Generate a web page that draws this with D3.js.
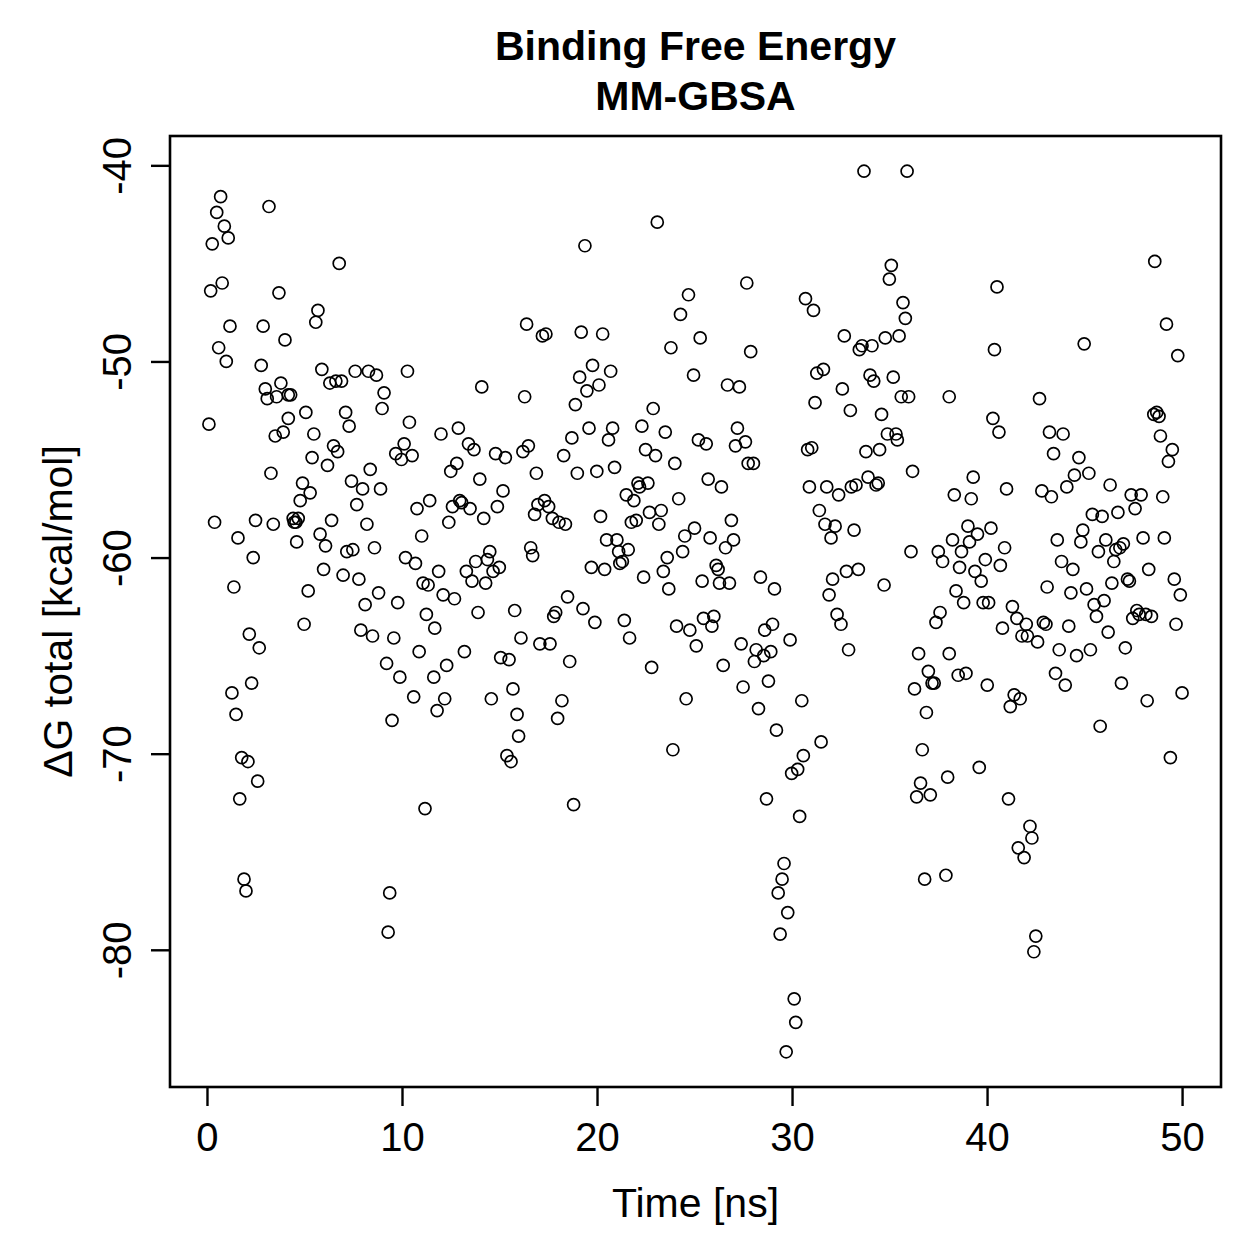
<!DOCTYPE html>
<html>
<head>
<meta charset="utf-8">
<script src="https://cdn.jsdelivr.net/npm/d3@7"></script>
<style>
  body { margin: 0; background: #fff; }
  text { font-family: "Liberation Sans", Arial, Helvetica, sans-serif; fill: #000; }
</style>
</head>
<body>
<svg id="chart" width="1259" height="1259"></svg>
<script>
// MM-GBSA binding free energy per frame
var time = [0.70,0.50,3.18,0.89,1.09,0.27,6.78,0.78,0.19,3.69,5.69,5.58,1.18,2.88,4.00,0.60,0.99,2.78,5.89,10.28,
  7.60,8.28,8.69,6.30,6.61,6.90,3.79,2.99,9.08,4.17,4.29,3.57,3.09,8.98,5.07,7.11,4.17,10.38,0.10,7.29,
  3.91,3.50,5.48,6.49,6.70,10.11,9.68,9.97,10.52,5.39,6.18,8.37,3.28,7.41,4.90,7.98,8.90,5.29,4.78,11.42,
  7.68,10.77,0.39,2.49,3.40,4.42,4.56,4.68,4.47,6.39,8.20,1.59,5.80,6.08,4.60,11.01,7.17,7.48,8.59,2.37,
  10.18,10.69,5.98,6.98,7.79,1.38,5.19,11.08,11.34,8.80,8.11,9.78,11.25,4.98,2.17,2.68,7.89,8.49,9.58,10.88,
  9.21,9.89,2.29,1.28,10.60,1.49,9.49,1.78,2.10,2.60,1.68,11.18,1.90,2.00,9.37,9.29,
  23.09,19.38,24.69,24.28,23.79,16.39,17.20,17.38,19.19,20.29,19.77,19.11,20.70,20.10,19.48,18.89,14.09,16.29,22.88,12.00,
  12.89,13.41,13.69,14.80,15.30,16.20,16.48,18.71,19.59,20.80,20.59,22.30,23.50,22.49,23.00,23.99,18.29,12.81,12.50,13.99,
  16.89,18.99,19.99,20.90,22.10,22.18,22.61,21.50,21.89,12.59,12.96,13.06,13.49,15.18,14.89,12.40,14.19,17.31,16.97,17.52,
  16.80,17.71,18.05,18.38,20.18,24.19,22.69,23.29,23.17,21.76,22.01,24.50,24.39,20.49,21.02,21.11,21.60,21.17,21.30,19.71,
  20.39,23.60,23.40,22.39,23.68,16.60,16.70,14.50,14.38,13.78,13.30,13.59,14.29,14.67,14.99,11.88,12.11,12.69,18.49,13.90,
  15.78,17.88,17.78,19.28,19.89,21.40,21.67,24.08,24.76,11.68,16.10,17.07,17.59,13.20,15.06,15.49,18.60,22.80,12.29,11.63,
  15.69,14.58,12.19,11.80,18.20,17.98,24.57,15.90,15.98,23.89,15.38,15.59,18.80,
  33.69,35.90,35.09,34.99,27.68,30.69,31.10,35.69,35.81,25.29,27.88,32.68,33.45,33.59,34.10,34.78,35.49,24.95,26.69,27.30,
  31.27,31.61,34.00,34.19,35.19,32.58,35.60,35.98,38.06,31.18,32.99,34.59,27.20,25.20,25.60,27.10,27.61,27.75,28.02,30.80,
  31.01,33.79,34.49,34.89,35.33,35.40,36.18,25.70,26.38,30.89,31.78,32.39,33.04,33.28,33.90,34.31,34.42,31.40,31.69,32.21,
  32.00,33.18,26.89,25.00,25.80,26.59,27.00,26.11,26.21,25.39,26.28,26.79,28.38,29.10,32.79,33.40,32.08,31.90,34.72,36.10,
  37.50,37.72,25.46,25.99,25.89,25.09,27.39,28.16,28.07,28.55,28.91,28.60,29.00,29.90,26.47,32.31,32.51,32.90,37.59,37.38,
  36.49,38.06,36.99,37.18,37.29,36.28,27.49,28.79,28.28,30.50,36.89,29.20,31.49,30.58,30.29,29.98,36.68,28.69,30.39,36.59,
  36.39,37.09,37.98,29.59,29.49,29.29,29.78,29.39,30.11,30.19,29.70,36.80,37.89,
  48.60,40.51,49.20,49.78,40.38,44.98,42.69,40.30,40.61,48.55,48.70,48.82,48.89,49.50,49.30,43.20,43.90,43.41,44.71,44.48,
  45.22,44.09,39.29,38.32,39.19,41.00,42.81,43.30,46.31,47.39,47.90,47.59,49.01,45.40,45.90,46.71,39.02,39.51,40.20,38.23,
  39.10,38.69,40.90,39.91,38.59,39.38,39.70,40.68,44.91,44.81,43.60,46.09,45.71,46.60,46.81,46.99,46.50,43.82,44.40,48.00,
  49.09,48.29,47.20,47.30,46.40,49.60,49.91,38.41,38.80,39.80,40.08,41.30,43.08,44.30,45.10,45.49,46.00,47.68,47.80,48.14,
  48.43,47.47,45.61,41.53,40.79,42.01,42.07,41.79,42.59,42.89,43.02,44.19,46.21,49.69,43.70,44.59,45.30,47.09,38.52,38.92,
  40.01,41.39,41.70,41.19,43.51,44.01,46.89,48.21,50.00,45.80,49.40,39.60,41.10,42.20,42.30,41.60,41.90,42.50,42.40];

var dG = [-41.6,-42.4,-42.1,-43.1,-43.7,-44.0,-45.0,-46.0,-46.4,-46.5,-47.4,-48.0,-48.2,-48.2,-48.9,-49.3,-50.0,-50.2,-50.4,-50.5,
  -50.5,-50.5,-50.7,-51.1,-51.0,-51.0,-51.1,-51.4,-51.6,-51.7,-51.7,-51.8,-51.9,-52.4,-52.6,-52.6,-52.9,-53.1,-53.2,-53.3,
  -53.6,-53.8,-53.7,-54.3,-54.6,-54.2,-54.7,-55.0,-54.8,-54.9,-55.3,-55.5,-55.7,-56.1,-56.2,-56.5,-56.5,-56.7,-57.1,-57.1,
  -57.3,-57.5,-58.2,-58.1,-58.3,-58.0,-58.2,-58.0,-58.2,-58.1,-58.3,-59.0,-58.8,-59.4,-59.2,-58.9,-59.7,-59.6,-59.5,-60.0,
  -60.0,-60.3,-60.6,-60.9,-61.1,-61.5,-61.7,-61.3,-61.4,-61.8,-62.4,-62.3,-62.9,-63.4,-63.9,-64.6,-63.7,-64.0,-64.1,-64.8,
  -65.4,-66.1,-66.4,-66.9,-67.1,-68.0,-68.3,-70.2,-70.4,-71.4,-72.3,-72.8,-76.4,-77.0,-77.1,-79.1,
  -42.9,-44.1,-46.6,-47.6,-49.3,-48.1,-48.7,-48.6,-48.5,-48.6,-50.2,-50.8,-50.5,-51.2,-51.5,-52.2,-51.3,-51.8,-52.4,-53.7,
  -53.4,-54.2,-54.5,-54.7,-54.9,-54.6,-54.3,-53.9,-53.4,-53.4,-54.0,-53.3,-53.6,-54.5,-54.8,-55.2,-54.8,-55.2,-55.6,-56.0,
  -55.7,-55.7,-55.6,-55.4,-56.2,-56.4,-56.2,-56.8,-57.1,-57.4,-57.1,-57.2,-57.5,-56.6,-57.4,-58.2,-58.0,-57.1,-57.3,-57.4,
  -57.8,-58.0,-58.2,-58.3,-57.9,-57.0,-57.7,-57.6,-58.3,-58.2,-58.1,-58.9,-59.7,-59.1,-59.1,-59.7,-59.6,-60.3,-60.2,-60.5,
  -60.6,-60.0,-60.7,-61.0,-61.6,-59.5,-59.9,-59.7,-60.1,-60.2,-60.7,-61.2,-61.3,-60.7,-60.5,-60.7,-61.9,-62.1,-62.0,-62.8,
  -62.7,-62.8,-63.0,-62.6,-63.3,-63.2,-64.1,-63.5,-63.7,-63.6,-64.1,-64.4,-64.4,-64.8,-65.1,-65.2,-65.3,-65.6,-65.5,-66.1,
  -66.7,-67.2,-67.2,-67.8,-67.3,-68.2,-67.2,-68.0,-69.1,-69.8,-70.1,-70.4,-72.6,
  -40.3,-40.3,-45.1,-45.8,-46.0,-46.8,-47.4,-47.0,-47.8,-48.8,-49.5,-48.7,-49.4,-49.2,-49.2,-48.8,-48.7,-50.7,-51.2,-51.3,
  -50.6,-50.4,-50.7,-51.0,-50.8,-51.4,-51.8,-51.8,-51.8,-52.1,-52.5,-52.7,-53.4,-54.0,-54.2,-54.3,-54.1,-55.2,-55.2,-54.5,
  -54.4,-54.6,-54.5,-53.7,-53.7,-54.0,-55.6,-56.0,-56.4,-56.4,-56.4,-56.8,-56.4,-56.3,-55.9,-56.3,-56.2,-57.6,-58.3,-58.4,
  -59.0,-58.6,-58.1,-58.5,-59.0,-59.5,-59.1,-60.4,-60.6,-61.2,-61.3,-61.3,-61.0,-61.6,-60.7,-60.6,-61.1,-61.9,-61.4,-59.7,
  -59.7,-60.2,-63.1,-63.0,-63.5,-64.5,-64.4,-64.7,-65.3,-65.0,-64.8,-63.7,-63.4,-64.2,-65.5,-62.9,-63.4,-64.7,-62.8,-63.3,
  -64.9,-64.9,-65.8,-66.4,-66.4,-66.7,-66.6,-66.3,-67.7,-67.3,-67.9,-68.8,-69.4,-70.1,-70.8,-71.0,-69.8,-72.3,-73.2,-71.5,
  -72.2,-72.1,-71.2,-75.6,-76.4,-77.1,-78.1,-79.2,-82.5,-83.7,-85.2,-76.4,-76.2,
  -44.9,-46.2,-48.1,-49.7,-49.4,-49.1,-51.9,-52.9,-53.6,-52.7,-52.6,-52.8,-53.8,-54.5,-55.1,-53.6,-53.7,-54.7,-54.9,-55.8,
  -55.7,-56.4,-55.9,-56.8,-57.0,-56.5,-56.6,-56.9,-56.3,-56.8,-56.8,-57.5,-56.9,-57.8,-57.9,-57.7,-58.4,-58.8,-58.5,-59.1,
  -59.2,-59.7,-59.5,-60.1,-60.5,-60.7,-61.2,-60.4,-58.6,-59.2,-59.1,-59.1,-59.7,-59.6,-59.5,-59.3,-60.2,-60.2,-60.6,-59.0,
  -59.0,-60.6,-61.1,-61.2,-61.3,-61.1,-61.9,-61.7,-62.3,-62.3,-62.3,-62.5,-61.5,-61.8,-61.6,-62.4,-62.2,-62.7,-62.9,-62.9,
  -63.0,-63.1,-63.0,-63.1,-63.6,-63.4,-64.0,-64.0,-64.3,-63.3,-63.4,-63.5,-63.8,-63.4,-64.7,-65.0,-64.7,-64.6,-66.0,-65.9,
  -66.5,-67.0,-67.2,-67.6,-65.9,-66.5,-66.4,-67.3,-66.9,-68.6,-70.2,-70.7,-72.3,-73.7,-74.3,-74.8,-75.3,-79.3,-80.1];

var xTicks = [0, 10, 20, 30, 40, 50];
var yTicks = [-40, -50, -60, -70, -80];
var titleLines = ["Binding Free Energy", "MM-GBSA"];
var xLabel = "Time [ns]";
var yLabel = "\u0394G total [kcal/mol]";

var svg = d3.select("#chart"),
    margin = {top: 136, right: 38, bottom: 172, left: 170},
    width = +svg.attr("width") - margin.left - margin.right,
    height = +svg.attr("height") - margin.top - margin.bottom;

var points = time.map(function(t, i) { return {t: t, g: dG[i]}; });

// R style axis ranges: data extent padded by 4% on each side
function padded(ext) {
  var p = (ext[1] - ext[0]) * 0.04;
  return [ext[0] - p, ext[1] + p];
}

var x = d3.scaleLinear().domain(padded(d3.extent(time))).range([0, width]);
var y = d3.scaleLinear().domain(padded(d3.extent(dG))).range([height, 0]);

var g = svg.append("g")
    .attr("transform", "translate(" + margin.left + "," + margin.top + ")");

// points
g.append("g")
  .selectAll("circle")
  .data(points)
  .enter()
  .append("circle")
    .attr("cx", d => x(d.t))
    .attr("cy", d => y(d.g))
    .attr("r", 6)
    .attr("fill", "none")
    .attr("stroke", "#000")
    .attr("stroke-width", 1.7);

// x axis
var xAxis = g.append("g")
    .attr("transform", "translate(0," + height + ")")
    .call(d3.axisBottom(x).tickValues(xTicks).tickSize(19).tickFormat(d3.format("d")));
xAxis.select(".domain").remove();
xAxis.selectAll(".tick line").attr("stroke", "#000").attr("stroke-width", 2.4);
xAxis.selectAll(".tick text")
    .attr("y", 64)
    .attr("dy", null)
    .style("font-family", "'Liberation Sans', Arial, sans-serif")
    .style("font-size", "40px")
    .attr("fill", "#000");

// y axis, labels parallel to the axis as in R
var yAxis = g.append("g")
    .call(d3.axisLeft(y).tickValues(yTicks).tickSize(19).tickFormat(d => d3.format("d")(d).replace("\u2212", "-")));
yAxis.select(".domain").remove();
yAxis.selectAll(".tick line").attr("stroke", "#000").attr("stroke-width", 2.4);
yAxis.selectAll(".tick text")
    .attr("x", null)
    .attr("dy", null)
    .attr("text-anchor", "middle")
    .attr("transform", "translate(-39,0) rotate(-90)")
    .style("font-family", "'Liberation Sans', Arial, sans-serif")
    .style("font-size", "40px")
    .attr("fill", "#000");

// frame
g.append("rect")
    .attr("width", width)
    .attr("height", height)
    .attr("fill", "none")
    .attr("stroke", "#000")
    .attr("stroke-width", 2.6);

// titles
svg.selectAll(".title")
  .data(titleLines)
  .enter()
  .append("text")
    .attr("class", "title")
    .attr("x", margin.left + width / 2)
    .attr("y", (d, i) => 60 + i * 50)
    .attr("text-anchor", "middle")
    .style("font-weight", "bold")
    .style("font-size", "41px")
    .text(d => d);

svg.append("text")
    .attr("x", margin.left + width / 2)
    .attr("y", 1217)
    .attr("text-anchor", "middle")
    .style("font-size", "41px")
    .text(xLabel);

svg.append("text")
    .attr("transform", "translate(72," + (margin.top + height / 2) + ") rotate(-90)")
    .attr("text-anchor", "middle")
    .style("font-size", "41px")
    .text(yLabel);
</script>
</body>
</html>
